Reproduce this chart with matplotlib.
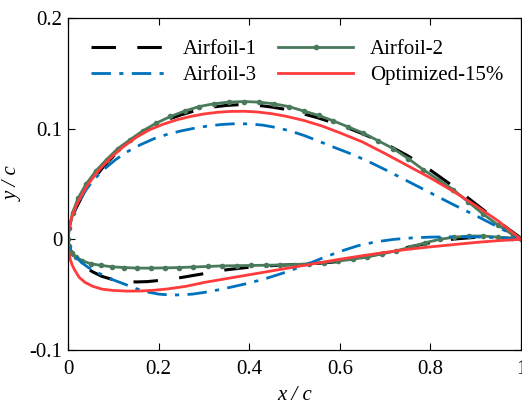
import matplotlib
matplotlib.use("Agg")
import matplotlib.pyplot as plt

# airfoil coordinates (x/c, y/c)
af1_up_x = [0, 0.002, 0.006, 0.012, 0.02, 0.035, 0.05, 0.075, 0.10, 0.125, 0.15, 0.175, 0.20,
            0.225, 0.25, 0.275, 0.30, 0.325, 0.35, 0.375, 0.40, 0.425, 0.45, 0.475, 0.50, 0.55,
            0.60, 0.65, 0.70, 0.75, 0.80, 0.85, 0.90, 0.95, 1.0]
af1_up_y = [0, 0.009, 0.016, 0.023, 0.030, 0.042, 0.051, 0.064, 0.075, 0.085, 0.093, 0.0995,
            0.1045, 0.109, 0.1125, 0.1155, 0.118, 0.1198, 0.121, 0.1216, 0.1215, 0.1208, 0.1195,
            0.1178, 0.1155, 0.110, 0.1035, 0.0955, 0.0865, 0.0755, 0.0625, 0.048, 0.032, 0.016,
            0.001]
af1_lo_x = [0, 0.002, 0.006, 0.012, 0.02, 0.035, 0.055, 0.075, 0.10, 0.125, 0.15, 0.175, 0.20,
            0.25, 0.30, 0.35, 0.40, 0.45, 0.50, 0.55, 0.60, 0.65, 0.70, 0.75, 0.80, 0.85, 0.90,
            0.95, 1.0]
af1_lo_y = [0, -0.005, -0.010, -0.0145, -0.019, -0.0245, -0.0295, -0.0335, -0.0365, -0.038,
            -0.0385, -0.0382, -0.0372, -0.0345, -0.031, -0.0275, -0.0252, -0.0238, -0.0228,
            -0.0218, -0.0200, -0.0165, -0.0120, -0.0072, -0.0030, 0.0002, 0.0018, 0.0017, 0]

af2_up_x = [0, 0.003, 0.010, 0.022, 0.040, 0.062, 0.085, 0.110, 0.137, 0.165, 0.195, 0.226, 0.258,
            0.290, 0.322, 0.355, 0.388, 0.421, 0.454, 0.487, 0.520, 0.553, 0.586, 0.619, 0.652,
            0.685, 0.718, 0.751, 0.784, 0.817, 0.850, 0.883, 0.916, 0.949, 0.982, 1.0]
af2_up_y = [0, 0.010, 0.024, 0.037, 0.050, 0.062, 0.072, 0.082, 0.090, 0.098, 0.105, 0.111, 0.116,
            0.120, 0.1225, 0.124, 0.1245, 0.124, 0.1225, 0.120, 0.116, 0.112, 0.107, 0.1015, 0.096,
            0.089, 0.082, 0.073, 0.063, 0.054, 0.045, 0.034, 0.023, 0.013, 0.004, 0.001]
af2_lo_x = [0, 0.002, 0.008, 0.018, 0.032, 0.050, 0.072, 0.097, 0.124, 0.153, 0.183, 0.214, 0.245,
            0.277, 0.309, 0.341, 0.373, 0.405, 0.437, 0.469, 0.501, 0.533, 0.565, 0.597, 0.629,
            0.661, 0.693, 0.725, 0.757, 0.789, 0.821, 0.853, 0.885, 0.917, 0.949, 0.981, 1.0]
af2_lo_y = [0, -0.006, -0.012, -0.016, -0.0195, -0.022, -0.0235, -0.0248, -0.0255, -0.026, -0.026,
            -0.0258, -0.0255, -0.025, -0.0245, -0.024, -0.0238, -0.0236, -0.0234, -0.0232, -0.0228,
            -0.022, -0.021, -0.0196, -0.018, -0.0158, -0.0132, -0.0103, -0.007, -0.003, 0.0,
            0.002, 0.003, 0.003, 0.002, 0.001, 0]

af3_up_x = [0, 0.002, 0.006, 0.012, 0.02, 0.035, 0.055, 0.08, 0.105, 0.13, 0.16, 0.19, 0.22, 0.25,
            0.28, 0.31, 0.34, 0.37, 0.40, 0.43, 0.46, 0.49, 0.52, 0.55, 0.58, 0.62, 0.66, 0.70,
            0.75, 0.80, 0.85, 0.90, 0.95, 1.0]
af3_up_y = [0, 0.009, 0.016, 0.0235, 0.031, 0.042, 0.053, 0.0635, 0.072, 0.079, 0.0855, 0.091,
            0.095, 0.098, 0.1005, 0.1025, 0.1038, 0.1045, 0.1043, 0.1032, 0.101, 0.098, 0.094,
            0.0893, 0.0843, 0.078, 0.071, 0.063, 0.0525, 0.042, 0.0315, 0.0215, 0.011, 0]
af3_lo_x = [0, 0.002, 0.006, 0.012, 0.02, 0.03, 0.045, 0.06, 0.08, 0.10, 0.125, 0.15, 0.175, 0.20,
            0.225, 0.25, 0.275, 0.30, 0.33, 0.36, 0.40, 0.44, 0.48, 0.52, 0.56, 0.60, 0.64, 0.68,
            0.72, 0.76, 0.80, 0.85, 0.90, 0.95, 1.0]
af3_lo_y = [0, -0.005, -0.009, -0.013, -0.017, -0.021, -0.0255, -0.029, -0.033, -0.0367, -0.0405,
            -0.0445, -0.0475, -0.0495, -0.0503, -0.0502, -0.0495, -0.048, -0.0458, -0.0432,
            -0.0395, -0.035, -0.0298, -0.0238, -0.0172, -0.011, -0.0058, -0.0022, 0.0, 0.0013,
            0.002, 0.0023, 0.0022, 0.0015, 0]

opt_up_x = [0, 0.001, 0.004, 0.010, 0.018, 0.030, 0.045, 0.065, 0.09, 0.12, 0.15, 0.18, 0.21,
            0.24, 0.27, 0.30, 0.33, 0.36, 0.39, 0.42, 0.45, 0.48, 0.52, 0.56, 0.60, 0.65, 0.70,
            0.75, 0.80, 0.85, 0.90, 0.95, 1.0]
opt_up_y = [0, 0.006, 0.013, 0.022, 0.030, 0.040, 0.050, 0.061, 0.072, 0.083, 0.092, 0.099,
            0.104, 0.108, 0.111, 0.1133, 0.1148, 0.1156, 0.1157, 0.115, 0.1135, 0.1113, 0.1075,
            0.1025, 0.0963, 0.088, 0.0775, 0.0665, 0.0555, 0.0435, 0.0305, 0.0165, 0]
opt_lo_x = [0, 0.0005, 0.002, 0.005, 0.009, 0.015, 0.025, 0.038, 0.055, 0.075, 0.10, 0.13, 0.16,
            0.19, 0.22, 0.26, 0.30, 0.35, 0.40, 0.45, 0.50, 0.55, 0.60, 0.65, 0.70, 0.75, 0.80,
            0.85, 0.90, 0.95, 1.0]
opt_lo_y = [0, -0.006, -0.012, -0.018, -0.023, -0.028, -0.0345, -0.039, -0.0425, -0.045, -0.0462,
            -0.0468, -0.0467, -0.046, -0.0448, -0.0425, -0.039, -0.0355, -0.032, -0.0285, -0.025,
            -0.0215, -0.018, -0.0148, -0.0118, -0.009, -0.0068, -0.0048, -0.0028, -0.0012, 0]

x_ticks = [0, 0.2, 0.4, 0.6, 0.8, 1.0]
x_labels = ["0", "0.2", "0.4", "0.6", "0.8", "1"]
y_ticks = [-0.1, 0, 0.1, 0.2]
y_labels = ["-0.1", "0", "0.1", "0.2"]

plt.rcParams['font.family'] = ['Liberation Serif', 'DejaVu Serif']

fig = plt.figure(figsize=(5.22, 4.08), dpi=100)
ax = fig.add_axes([68 / 522, 58 / 408, 453 / 522, 332 / 408])

# full outline: lower surface TE->LE, then upper LE->TE
def outline(ux, uy, lx, ly):
    return lx[::-1] + ux[1:], ly[::-1] + uy[1:]

x1, y1 = outline(af1_up_x, af1_up_y, af1_lo_x, af1_lo_y)
x2, y2 = outline(af2_up_x, af2_up_y, af2_lo_x, af2_lo_y)
x3, y3 = outline(af3_up_x, af3_up_y, af3_lo_x, af3_lo_y)
x4, y4 = outline(opt_up_x, opt_up_y, opt_lo_x, opt_lo_y)

l1, = ax.plot(x1, y1, color='black', lw=2.2, dashes=(8, 7), label='Airfoil-1')
l2, = ax.plot(x2, y2, color='#4A7A5C', lw=2, marker='.', markersize=6, label='Airfoil-2')
l3, = ax.plot(x3, y3, color='#0072BD', lw=2, dashes=(7, 3, 1.5, 3), label='Airfoil-3')
l4, = ax.plot(x4, y4, color='#FF3B3B', lw=2, label='Optimized-15%')

ax.set_xlim(0, 1)
ax.set_ylim(-0.1, 0.2)
ax.set_xticks(x_ticks)
ax.set_xticklabels(x_labels)
ax.set_yticks(y_ticks)
ax.set_yticklabels(y_labels)
ax.tick_params(direction='in', top=True, right=True, length=5, labelsize=15)
ax.tick_params(axis='x', pad=7)
ax.tick_params(axis='y', pad=4)
for s in ax.spines.values():
    s.set_linewidth(0.9)

ax.set_xlabel('x / c', fontsize=15, style='italic', labelpad=5)
ax.set_ylabel('y / c', fontsize=15, style='italic', labelpad=5)

# legend fills column-first: 1,3 | 2,opt  -> rows (1,2), (3,opt)
ax.legend([l1, l3, l2, l4], ['Airfoil-1', 'Airfoil-3', 'Airfoil-2', 'Optimized-15%'],
          ncol=2, frameon=False, loc='upper left', fontsize=15, handlelength=3.6,
          handletextpad=0.8, columnspacing=1.0, labelspacing=0.3, borderaxespad=0.4,
          bbox_to_anchor=(0.015, 0.985))

fig.savefig('out.png', dpi=100)
